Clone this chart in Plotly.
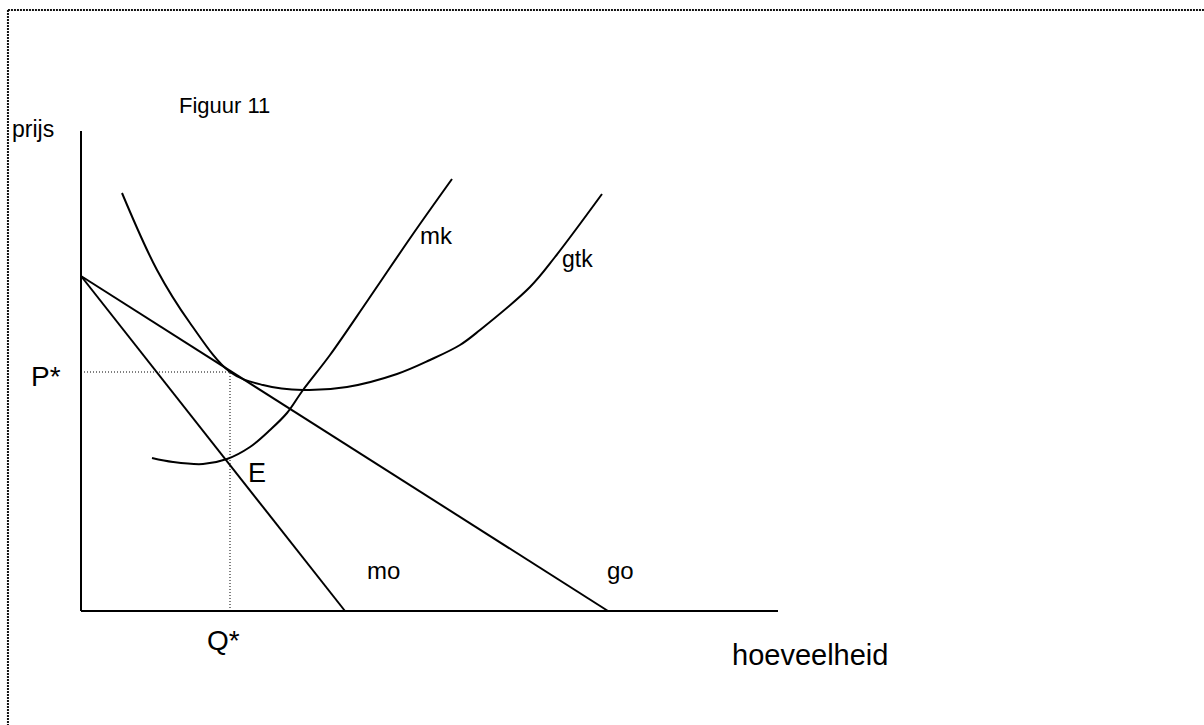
import plotly.graph_objects as go

# Quantity / price values of the diagram (quantity on x, price on y)
demand_q = [0.0, 52.7]          # go: gemiddelde opbrengst
demand_p = [33.5, 0.0]
mr_q = [0.0, 26.4]              # mo: marginale opbrengst
mr_p = [33.5, 0.0]

atc_q = [4.1, 7.6, 10.9, 14.9, 18.2, 22.2, 26.6, 31.6, 34.9, 37.9, 39.9, 44.9, 47.4, 52.1]
atc_p = [41.8, 34.1, 28.8, 23.9, 22.6, 22.1, 22.4, 23.7, 25.1, 26.6, 28.1, 32.4, 35.4, 41.7]

mc_q = [7.1, 9.2, 12.2, 14.6, 16.9, 18.9, 20.6, 22.2, 24.9, 28.7, 33.2, 37.1]
mc_p = [15.3, 14.9, 14.7, 15.2, 16.4, 18.1, 19.8, 22.1, 25.6, 31.1, 37.7, 43.2]

q_star = 14.9
p_star = 23.9
axis_q_max = 69.7
axis_p_max = 48.0

FONT = "Liberation Sans, Arial, sans-serif"
INK = "#000000"

fig = go.Figure()

curve = dict(color=INK, width=2)
fig.add_trace(go.Scatter(x=demand_q, y=demand_p, mode="lines", line=curve))
fig.add_trace(go.Scatter(x=mr_q, y=mr_p, mode="lines", line=curve))
fig.add_trace(go.Scatter(x=atc_q, y=atc_p, mode="lines",
                         line=dict(color=INK, width=2, shape="spline", smoothing=1.0)))
fig.add_trace(go.Scatter(x=mc_q, y=mc_p, mode="lines",
                         line=dict(color=INK, width=2, shape="spline", smoothing=1.0)))

# axes drawn as plain lines
fig.add_shape(type="line", x0=0, y0=0, x1=0, y1=axis_p_max, line=dict(color=INK, width=2))
fig.add_shape(type="line", x0=0, y0=0, x1=axis_q_max, y1=0, line=dict(color=INK, width=2))

# dotted guides for P* and Q*
guide = dict(color=INK, width=1, dash="1px,2px")
fig.add_shape(type="line", x0=0, y0=p_star, x1=q_star, y1=p_star, line=guide)
fig.add_shape(type="line", x0=q_star, y0=0, x1=q_star, y1=p_star, line=guide)

# dotted frame along the top and left edge
frame = dict(color="#111111", width=2, dash="2px,1px")
fig.add_shape(type="line", xref="paper", yref="paper", x0=0.0066, y0=0.9862, x1=1.0, y1=0.9862, line=frame)
fig.add_shape(type="line", xref="paper", yref="paper", x0=0.0066, y0=0.9862, x1=0.0066, y1=0.0, line=frame)

labels = [
    ("Figuur 11", 9.6, 50.6, 22),
    ("prijs", -7.1, 48.2, 23),
    ("P*", -5.2, 23.5, 28),
    ("Q*", 12.4, -2.9, 28),
    ("hoeveelheid", 64.9, -4.4, 29),
    ("mo", 28.4, 4.1, 24),
    ("go", 52.4, 4.1, 24),
    ("mk", 33.7, 37.6, 24),
    ("gtk", 47.9, 35.2, 23),
    ("E", 16.5, 13.85, 27),
]
for text, x, y, size in labels:
    fig.add_annotation(x=x, y=y, text=text, showarrow=False, xanchor="left", yanchor="middle",
                       font=dict(family=FONT, size=size, color=INK))

fig.update_layout(
    width=1204, height=725, autosize=False,
    margin=dict(l=0, r=0, t=0, b=0),
    paper_bgcolor="white", plot_bgcolor="white",
    showlegend=False,
    xaxis=dict(range=[-8.1, 112.3], visible=False, fixedrange=True),
    yaxis=dict(range=[-11.4, 61.1], visible=False, fixedrange=True),
)

fig.write_html("out.html")
